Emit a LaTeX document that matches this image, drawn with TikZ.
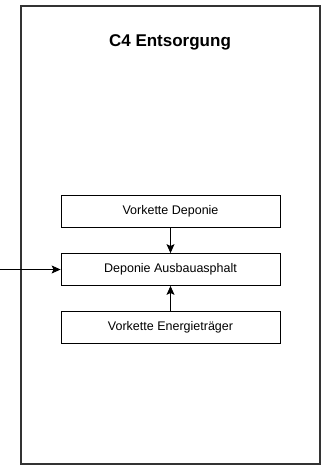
\documentclass[tikz,border=0pt]{standalone}
\usepackage{fontspec}
\setmainfont{Liberation Sans}
\usetikzlibrary{arrows.meta}
\begin{document}
\begin{tikzpicture}[x=1pt, y=-1pt,
    prozess/.style={draw, thick, minimum width=219pt, minimum height=32pt,
        inner sep=0pt, font=\fontsize{12.5}{14}\selectfont},
    pfeil/.style={-{Stealth[length=9pt, width=8pt, inset=2pt]}, thick}]
    \useasboundingbox (0, 0) rectangle (325, 466);
    
    % Rahmen
    \draw[line width=2pt, black!80] (21, 5.5) rectangle (320, 463.5);
    \node[font=\bfseries\fontsize{17}{20}\selectfont] (titel) at (170, 42) {C4 Entsorgung};
    
    % Prozesse
    \node[prozess] (vorDeponie) at (170.5, 211) {Vorkette Deponie};
    \node[prozess] (deponie) at (170.5, 269.5) {Deponie Ausbauasphalt};
    \node[prozess] (vorEnergie) at (170.5, 327.5) {Vorkette Energieträger};
    
    % Eingang von links
    \coordinate (eingang) at (0, 269.5);
    
    % Pfeile
    \draw[pfeil] (vorDeponie) -- (deponie);
    \draw[pfeil] (vorEnergie) -- (deponie);
    \draw[pfeil] (eingang) -- (deponie);
\end{tikzpicture}
\end{document}
